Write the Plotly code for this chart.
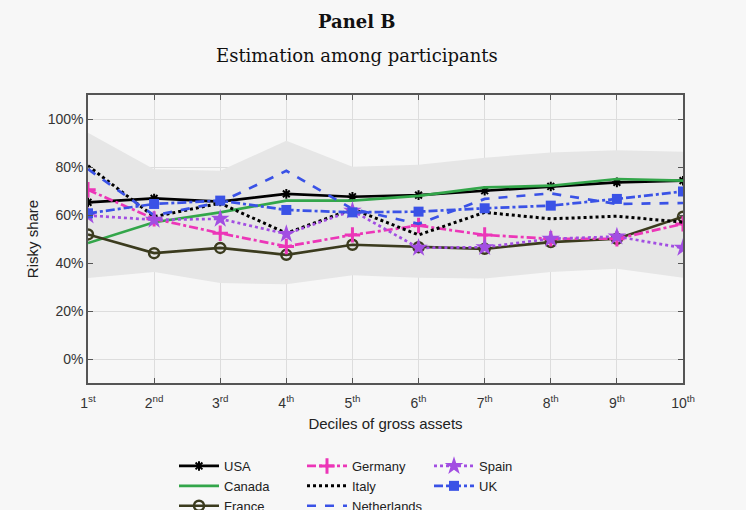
import plotly.graph_objects as go

deciles = [1, 2, 3, 4, 5, 6, 7, 8, 9, 10]
tick_labels = ["1<sup>st</sup>", "2<sup>nd</sup>", "3<sup>rd</sup>", "4<sup>th</sup>", "5<sup>th</sup>",
               "6<sup>th</sup>", "7<sup>th</sup>", "8<sup>th</sup>", "9<sup>th</sup>", "10<sup>th</sup>"]
y_tick_vals = [0, 20, 40, 60, 80, 100]
y_tick_labels = ["0%", "20%", "40%", "60%", "80%", "100%"]

usa = [65.3, 66.9, 65.6, 68.8, 67.6, 68.3, 70.1, 71.9, 73.6, 74.3]
canada = [48.3, 57.0, 61.1, 66.0, 66.0, 68.0, 71.5, 72.2, 75.0, 74.3]
france = [51.9, 44.1, 46.3, 43.4, 47.6, 46.6, 45.9, 48.7, 50.1, 59.3]
germany = [70.5, 58.4, 52.4, 46.9, 51.7, 55.6, 51.7, 50.1, 50.1, 56.3]
italy = [80.5, 59.3, 64.9, 52.4, 62.5, 51.7, 61.1, 58.4, 59.5, 57.0]
netherlands = [79.1, 59.8, 65.3, 78.4, 62.5, 56.3, 66.7, 69.0, 64.6, 65.0]
spain = [59.8, 58.0, 58.4, 52.1, 61.8, 46.3, 46.6, 50.1, 51.0, 46.3]
uk = [60.7, 64.6, 66.0, 62.1, 61.1, 61.4, 62.8, 63.9, 66.7, 69.8]
band_upper = [94.3, 79.1, 78.4, 90.9, 80.1, 80.9, 83.9, 86.0, 87.0, 86.4]
band_lower = [33.7, 36.2, 31.7, 31.1, 34.9, 33.9, 33.5, 36.2, 37.6, 33.9]

SANS = "Liberation Sans, Arial, sans-serif"
SERIF = "DejaVu Serif, serif"

fig = go.Figure()

fig.add_trace(go.Scatter(x=deciles, y=band_lower, mode="lines", line=dict(width=0),
                         showlegend=False, hoverinfo="skip"))
fig.add_trace(go.Scatter(x=deciles, y=band_upper, mode="lines", line=dict(width=0),
                         fill="tonexty", fillcolor="#e6e6e6", showlegend=False, hoverinfo="skip"))

series = [
    ("USA", usa, dict(color="black", width=2.7, dash="solid"),
     dict(symbol="asterisk-open", size=8, line=dict(width=2, color="black")), "lines+markers", "legend"),
    ("Canada", canada, dict(color="#33a64a", width=2.7, dash="solid"), None, "lines", "legend"),
    ("France", france, dict(color="#3b3b1e", width=2.7, dash="solid"),
     dict(symbol="circle-open", size=10, line=dict(width=2.5, color="#3b3b1e")), "lines+markers", "legend"),
    ("Germany", germany, dict(color="#ec36b8", width=2.7, dash="dashdot"),
     dict(symbol="cross-thin-open", size=11, line=dict(width=3, color="#ec36b8")), "lines+markers", "legend2"),
    ("Italy", italy, dict(color="black", width=3, dash="dot"), None, "lines", "legend2"),
    ("Netherlands", netherlands, dict(color="#3a52e6", width=2.7, dash="dash"), None, "lines", "legend2"),
    ("Spain", spain, dict(color="#a24ee2", width=2.7, dash="dot"),
     dict(symbol="star", size=14, color="#a24ee2"), "lines+markers", "legend3"),
    ("UK", uk, dict(color="#3a52e6", width=2.7, dash="dashdot"),
     dict(symbol="square", size=10, color="#3a52e6"), "lines+markers", "legend3"),
]

for name, vals, line, marker, mode, leg in series:
    kw = dict(x=deciles, y=vals, mode=mode, name=name, line=line, legend=leg)
    if marker is not None:
        kw["marker"] = marker
    fig.add_trace(go.Scatter(**kw))

bg = "#f7f7f7"
W, H = 746, 510
L, R, T, B = 88, 63, 95, 127
pw, ph = W - L - R, H - T - B

legend_common = dict(orientation="v", yanchor="top", xanchor="left", bgcolor="rgba(0,0,0,0)",
                     xref="paper", yref="container", traceorder="normal",
                     font=dict(family=SANS, size=13, color="#222"),
                     tracegroupgap=0, itemwidth=40)

LEG_TOP = 451
fig.update_layout(
    width=W, height=H,
    paper_bgcolor=bg, plot_bgcolor=bg,
    margin=dict(l=L, r=R, t=T, b=B),
    font=dict(family=SANS, size=13, color="#333"),
    legend=dict(x=(174 - L) / pw, y=1 - LEG_TOP / H, **legend_common),
    legend2=dict(x=(302 - L) / pw, y=1 - LEG_TOP / H, **legend_common),
    legend3=dict(x=(429 - L) / pw, y=1 - LEG_TOP / H, **legend_common),
    annotations=[
        dict(text="<b>Panel B</b>", x=(357 - L) / pw, y=(H - B - 22) / ph,
             xref="paper", yref="paper", showarrow=False, yanchor="middle",
             font=dict(family=SERIF, size=18, color="#111")),
        dict(text="Estimation among participants", x=(357 - L) / pw, y=(H - B - 56) / ph,
             xref="paper", yref="paper", showarrow=False, yanchor="middle",
             font=dict(family=SERIF, size=18, color="#111")),
    ],
)

axis_common = dict(showline=True, linecolor="#555", linewidth=1.5, mirror="ticks",
                   ticks="inside", ticklen=5, tickcolor="#555",
                   showgrid=True, gridcolor="#dddddd", gridwidth=1, zeroline=False,
                   tickfont=dict(family=SANS, size=14, color="#333"))

fig.update_xaxes(range=[1, 10], tickvals=deciles, ticktext=tick_labels, ticklabelstandoff=6,
                 title=dict(text="Deciles of gross assets", standoff=9,
                            font=dict(family=SANS, size=15, color="#222")),
                 **axis_common)
fig.update_yaxes(range=[-10, 110], tickvals=y_tick_vals, ticktext=y_tick_labels,
                 title=dict(text="Risky share", standoff=5,
                            font=dict(family=SANS, size=15, color="#222")),
                 **axis_common)

fig.write_html("out.html", config={"displayModeBar": False},
               post_script="document.body.style.margin='0';document.body.style.background='#f7f7f7';")
